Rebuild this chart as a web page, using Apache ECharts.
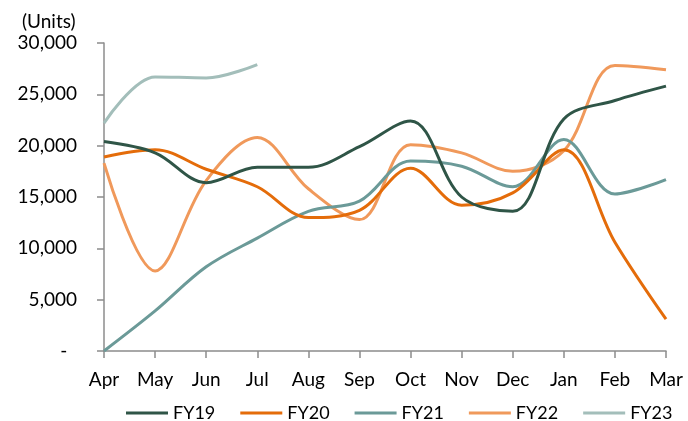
<!DOCTYPE html>
<html>
<head>
<meta charset="utf-8">
<script src="https://cdn.jsdelivr.net/npm/echarts@6/dist/echarts.min.js"></script>
<style>
  html, body { margin: 0; padding: 0; background: #fff; }
  #chart { width: 688px; height: 421px; }
</style>
</head>
<body>
<div id="chart"></div>
<script>
// Monthly unit volumes by fiscal year (April to March)
const months = ['Apr', 'May', 'Jun', 'Jul', 'Aug', 'Sep', 'Oct', 'Nov', 'Dec', 'Jan', 'Feb', 'Mar'];
const fy19 = [20400, 19300, 16400, 17900, 17900, 19900, 22400, 15000, 13600, 22600, 24400, 25800];
const fy20 = [18900, 19600, 17700, 16000, 13000, 13700, 17800, 14200, 15400, 19600, 10600, 3100];
const fy21 = [0, 3900, 8200, 11000, 13600, 14600, 18500, 18000, 16000, 20600, 15300, 16700];
const fy22 = [18300, 7800, 16600, 20800, 15800, 12800, 20100, 19300, 17500, 19500, 27800, 27400];
const fy23 = [22200, 26700, 26600, 27900];

const seriesNames = ['FY19', 'FY20', 'FY21', 'FY22', 'FY23'];
const seriesData = [fy19, fy20, fy21, fy22, fy23];
const seriesColors = ['#2F5547', '#E46C0A', '#6B9A98', '#F0995B', '#A3BEBA'];

const FONT = 'Lato, "Open Sans", sans-serif';
const axisGrey = '#8C8C8C';

const chart = echarts.init(document.getElementById('chart'), null, { renderer: 'canvas' });

chart.setOption({
  animation: false,
  backgroundColor: '#fff',
  title: {
    text: '(Units)',
    left: 17,
    top: 7,
    textStyle: { fontFamily: FONT, fontSize: 19, fontWeight: 'normal', color: '#000' }
  },
  grid: { left: 104, right: 22, top: 43, bottom: 70 },
  legend: {
    data: seriesNames,
    left: 121,
    top: 399,
    width: 600,
    icon: 'rect',
    itemWidth: 42,
    itemHeight: 3,
    itemGap: 25,
    textStyle: { fontFamily: FONT, fontSize: 18, color: '#000' }
  },
  xAxis: {
    type: 'category',
    data: months,
    boundaryGap: false,
    axisLine: { lineStyle: { color: axisGrey, width: 1.5 } },
    axisTick: { show: true, length: 7, alignWithLabel: true, lineStyle: { color: axisGrey, width: 1.5 } },
    axisLabel: { margin: 19, fontFamily: FONT, fontSize: 19, color: '#000' },
    splitLine: { show: false }
  },
  yAxis: {
    type: 'value',
    min: 0,
    max: 30000,
    interval: 5000,
    axisLine: { show: true, lineStyle: { color: axisGrey, width: 1.5 } },
    axisTick: { show: true, length: 7, lineStyle: { color: axisGrey, width: 1.5 } },
    axisLabel: {
      margin: 27,
      fontFamily: FONT,
      fontSize: 19,
      color: '#000',
      formatter: v => v === 0 ? '-  ' : v.toLocaleString('en-US')
    },
    splitLine: { show: false }
  },
  series: seriesNames.map((name, i) => ({
    name,
    type: 'line',
    data: seriesData[i],
    smooth: 0.35,
    symbol: 'none',
    showSymbol: false,
    lineStyle: { color: seriesColors[i], width: 3 },
    itemStyle: { color: seriesColors[i] },
    z: 10 - i
  }))
});
</script>
</body>
</html>
